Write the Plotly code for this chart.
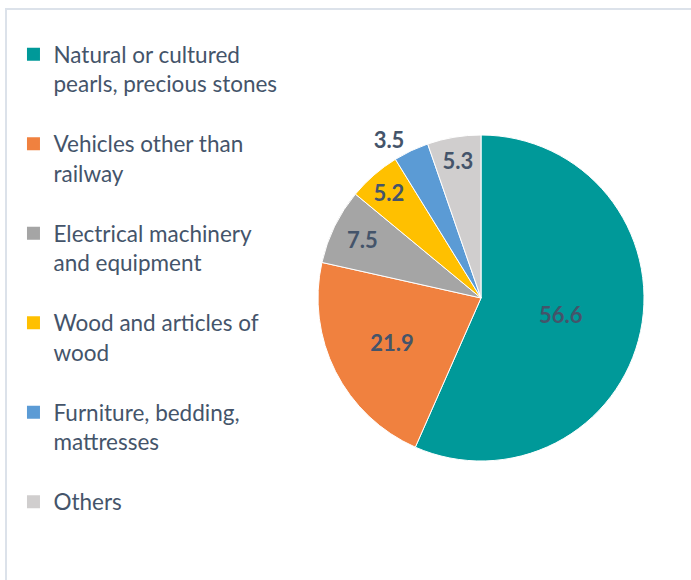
import plotly.graph_objects as go

categories = [
    "Natural or cultured<br>pearls, precious stones",
    "Vehicles other than<br>railway",
    "Electrical machinery<br>and equipment",
    "Wood and articles of<br>wood",
    "Furniture, bedding,<br>mattresses",
    "Others",
]
values = [56.6, 21.9, 7.5, 5.2, 3.5, 5.3]
value_labels = ["56.6", "21.9", "7.5", "5.2", "3.5", "5.3"]
colors = ["#009999", "#F0813F", "#A5A5A5", "#FFC000", "#5B9BD5", "#D0CECE"]
text_positions = ["inside", "inside", "inside", "inside", "outside", "inside"]

W, H = 691, 580
cx, cy, r = 481, 298, 163

fig = go.Figure()
fig.add_trace(go.Pie(
    labels=categories,
    values=values,
    text=value_labels,
    textinfo="text",
    textposition=text_positions,
    insidetextorientation="horizontal",
    sort=False,
    direction="clockwise",
    rotation=0,
    marker=dict(colors=colors, line=dict(color="white", width=1)),
    textfont=dict(family="Lato", size=22, color="#44546A", weight="bold"),
    domain=dict(x=[(cx - r) / W, (cx + r) / W], y=[(H - cy - r) / H, (H - cy + r) / H]),
    showlegend=False,
    hoverinfo="label+value",
))

for i, (lab, col) in enumerate(zip(categories, colors)):
    fig.add_trace(go.Scatter(
        x=[None], y=[None], mode="markers", name=lab,
        legendgroup=str(i),
        marker=dict(symbol="square", size=13, color=col),
        showlegend=True,
    ))

fig.update_layout(
    width=W, height=H,
    margin=dict(l=0, r=0, t=0, b=0),
    paper_bgcolor="white", plot_bgcolor="white",
    xaxis=dict(visible=False), yaxis=dict(visible=False),
    legend=dict(
        x=0.0195, y=0.943, xanchor="left", yanchor="top",
        font=dict(family="Lato", size=22.5, color="#44546A"),
        valign="top", tracegroupgap=28, itemwidth=30,
        bgcolor="rgba(0,0,0,0)",
    ),
    shapes=[dict(type="rect", xref="paper", yref="paper",
                 x0=6 / W, x1=1.05, y0=-0.05, y1=1 - 9 / H,
                 line=dict(color="#DCE2EA", width=2), layer="below")],
)

fig.write_html("out.html", config={"displayModeBar": False},
               post_script="document.body.style.margin='0';")
